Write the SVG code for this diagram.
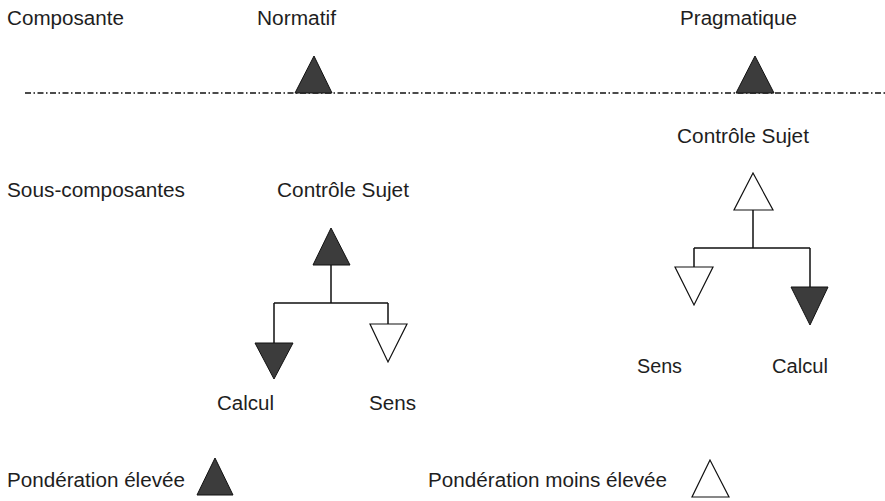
<svg xmlns="http://www.w3.org/2000/svg" width="885" height="501" viewBox="0 0 885 501">
<style>
text{font-family:"Liberation Sans",Arial,sans-serif;font-size:20px;fill:#1e1e1e;}
.f{fill:#3c3c3c;stroke:#111;stroke-width:1;stroke-linejoin:miter;}
.h{fill:#fff;stroke:#111;stroke-width:1.2;}
.c{fill:none;stroke:#111;stroke-width:1.5;}
.axis{fill:none;stroke:#111;stroke-width:1.3;stroke-dasharray:6 2.5 1.5 2.5;}
</style>
<rect width="885" height="501" fill="#fff"/>
<g id="headers">
<text x="7" y="25" textLength="117" lengthAdjust="spacingAndGlyphs">Composante</text>
<text x="257" y="25" textLength="79" lengthAdjust="spacingAndGlyphs">Normatif</text>
<text x="680" y="25" textLength="117" lengthAdjust="spacingAndGlyphs">Pragmatique</text>
<text x="7" y="197" textLength="178" lengthAdjust="spacingAndGlyphs">Sous-composantes</text>
</g>
<line class="axis" x1="25" y1="93" x2="885" y2="93"/>
<g id="normatif">
<polygon class="f" points="314,56 295,93 332,93"/>
</g>
<g id="pragmatique">
<polygon class="f" points="755,56 736,93 774,93"/>
</g>
<g id="connectors">
<path class="c" d="M331,265 V303 M274,303 H388 M274,303 V343 M388,303 V324"/>
<path class="c" d="M753,210 V248 M694,248 H810 M694,248 V267 M810,248 V287"/>
</g>
<g id="normatif-controle">
<polygon class="f" points="331,228 313,265 350,265"/>
<text x="277" y="197" textLength="132" lengthAdjust="spacingAndGlyphs">Contrôle Sujet</text>
</g>
<g id="normatif-calcul">
<polygon class="f" points="255,343 293,343 274,379"/>
<text x="217" y="410" textLength="57" lengthAdjust="spacingAndGlyphs">Calcul</text>
</g>
<g id="normatif-sens">
<polygon class="h" points="370,324 407,324 388,362"/>
<text x="369" y="410" textLength="47" lengthAdjust="spacingAndGlyphs">Sens</text>
</g>
<g id="pragmatique-controle">
<polygon class="h" points="753,173 734,210 773,210"/>
<text x="677" y="143" textLength="132" lengthAdjust="spacingAndGlyphs">Contrôle Sujet</text>
</g>
<g id="pragmatique-sens">
<polygon class="h" points="675,267 713,267 694,305"/>
<text x="637" y="373" textLength="45" lengthAdjust="spacingAndGlyphs">Sens</text>
</g>
<g id="pragmatique-calcul">
<polygon class="f" points="791,287 828,287 810,325"/>
<text x="772" y="373" textLength="56" lengthAdjust="spacingAndGlyphs">Calcul</text>
</g>
<g id="legend-elevee">
<text x="7" y="487" textLength="178" lengthAdjust="spacingAndGlyphs">Pondération élevée</text>
<polygon class="f" points="215,458 197,495 233,495"/>
</g>
<g id="legend-moins">
<text x="428" y="487" textLength="239" lengthAdjust="spacingAndGlyphs">Pondération moins élevée</text>
<polygon class="h" points="710,460 692,497 729,497"/>
</g>
</svg>
